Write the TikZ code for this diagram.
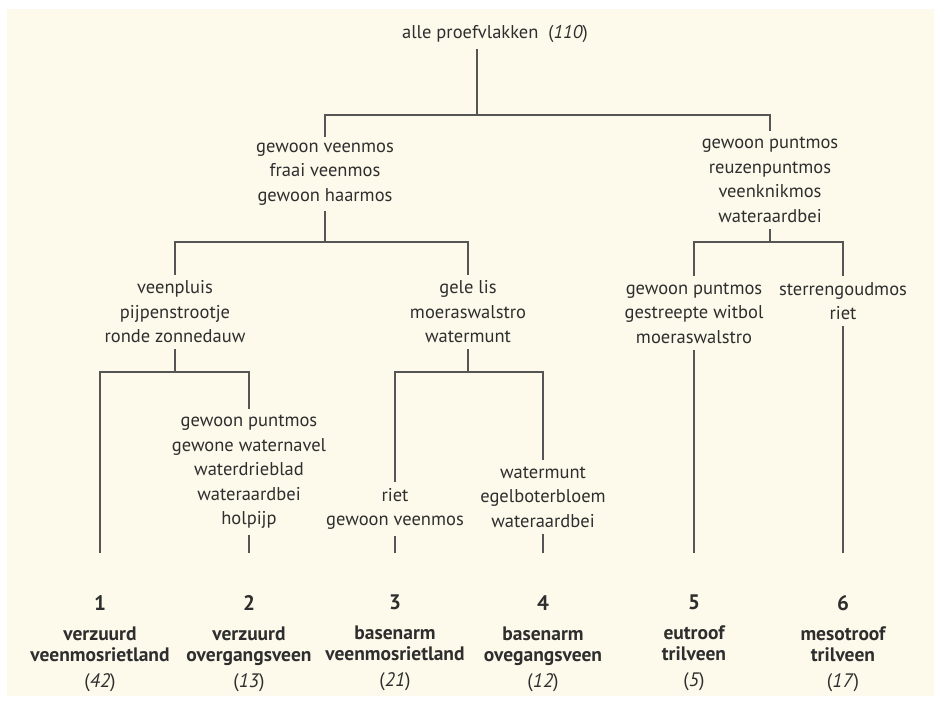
\documentclass[tikz,border=0pt]{standalone}
\usepackage{fontspec}
\setmainfont{PT Sans}
\usetikzlibrary{positioning}
\definecolor{bgbeige}{HTML}{FDFAEC}
\definecolor{linegray}{HTML}{555555}
\definecolor{textgray}{HTML}{2E2E2E}
\begin{document}
\begin{tikzpicture}[x=1pt, y=-1pt,
  link/.style={draw=linegray, line width=1.7pt},
  taxa/.style={align=center, text=textgray, inner sep=6pt, font=\fontsize{18.5}{24.5}\selectfont},
  leaf/.style={align=center, text=textgray, inner sep=0pt, anchor=north, font=\bfseries\fontsize{19.5}{21}\selectfont}]

% Background
\useasboundingbox (0,0) rectangle (934,702);
\fill[bgbeige] (7,9) rectangle (934,696);

% Species groups
\node[taxa] (root) at (495,34) {alle proefvlakken~~(\textit{110})};
\node[taxa] (A) at (325,174) {gewoon veenmos\\fraai veenmos\\gewoon haarmos};
\node[taxa] (G) at (770,180) {gewoon puntmos\\reuzenpuntmos\\veenknikmos\\wateraardbei};
\node[taxa] (B) at (175,312) {veenpluis\\pijpenstrootje\\ronde zonnedauw};
\node[taxa] (C) at (468,312) {gele lis\\moeraswalstro\\watermunt};
\node[taxa] (H) at (694,313) {gewoon puntmos\\gestreepte witbol\\moeraswalstro};
\node[taxa] (I) at (843,301) {sterrengoudmos\\riet};
\node[taxa] (D) at (249,472) {gewoon puntmos\\gewone waternavel\\waterdrieblad\\wateraardbei\\holpijp};
\node[taxa] (E) at (395,509) {riet\\gewoon veenmos};
\node[taxa] (F) at (543,497) {watermunt\\egelboterbloem\\wateraardbei};

% Junctions
\coordinate (j0) at (477,115);
\coordinate (j1) at (325,242);
\coordinate (j2) at (175,372);
\coordinate (j3) at (468,372);
\coordinate (j4) at (770,242);

% Line ends above the vegetation types
\coordinate (b1) at (100,553);
\coordinate (b2) at (249,553);
\coordinate (b3) at (395,553);
\coordinate (b4) at (543,553);
\coordinate (b5) at (694,553);
\coordinate (b6) at (843,553);

% Vegetation types
\node[leaf, below=42pt of b1] (L1) {{\fontsize{21}{21}\selectfont 1}\\[9pt]verzuurd\\veenmosrietland\\[5pt]\mdseries(\textit{42})};
\node[leaf, below=42pt of b2] (L2) {{\fontsize{21}{21}\selectfont 2}\\[9pt]verzuurd\\overgangsveen\\[5pt]\mdseries(\textit{13})};
\node[leaf, below=42pt of b3] (L3) {{\fontsize{21}{21}\selectfont 3}\\[9pt]basenarm\\veenmosrietland\\[5pt]\mdseries(\textit{21})};
\node[leaf, below=42pt of b4] (L4) {{\fontsize{21}{21}\selectfont 4}\\[9pt]basenarm\\ovegangsveen\\[5pt]\mdseries(\textit{12})};
\node[leaf, below=42pt of b5] (L5) {{\fontsize{21}{21}\selectfont 5}\\[9pt]eutroof\\trilveen\\[5pt]\mdseries(\textit{5})};
\node[leaf, below=42pt of b6] (L6) {{\fontsize{21}{21}\selectfont 6}\\[9pt]mesotroof\\trilveen\\[5pt]\mdseries(\textit{17})};

% Tree
\draw[link] (root.south -| j0) -- (j0);
\draw[link] (A.north) |- (j0) -| (G.north);
\draw[link] (A.south) -- (j1);
\draw[link] (B.north) |- (j1) -| (C.north);
\draw[link] (B.south) -- (j2);
\draw[link] (b1) |- (j2) -| (D.north);
\draw[link] (D.south) -- (b2);
\draw[link] (C.south) -- (j3);
\draw[link] (E.north) |- (j3) -| (F.north);
\draw[link] (E.south) -- (b3);
\draw[link] (F.south) -- (b4);
\draw[link] (G.south) -- (j4);
\draw[link] (H.north) |- (j4) -| (I.north);
\draw[link] (H.south) -- (b5);
\draw[link] (I.south) -- (b6);

\end{tikzpicture}
\end{document}
